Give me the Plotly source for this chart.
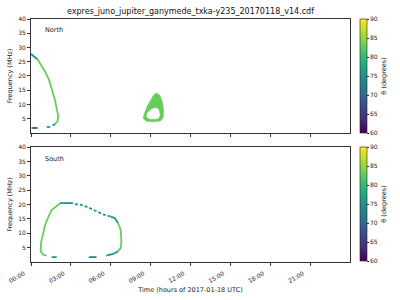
import pandas as pd
import plotly.graph_objects as go
from plotly.colors import sample_colorscale

# ---------------- data (hours of day, frequency MHz, theta degrees) ----------------
title_text = "expres_juno_jupiter_ganymede_txka-y235_20170118_v14.cdf"
y_ticks = [5, 10, 15, 20, 25, 30, 35, 40]
x_tick_hours = [0, 3, 6, 9, 12, 15, 18, 21]
cbar_ticks = [60, 65, 70, 75, 80, 85, 90]

# North hemisphere segments: (hours, freqs, theta, dashed)
n_arc_top_h = [0.0, 0.3, 0.5]
n_arc_top_f = [27.7, 26.6, 25.8]
n_arc_h = [0.5, 0.68, 1.05, 1.35, 1.6, 1.8, 1.95, 2.05, 2.0, 1.8]
n_arc_f = [25.8, 24.5, 21.6, 18.7, 15.2, 11.7, 8.2, 5.8, 4.1, 3.1]
n_tail_h = [1.8, 1.62]
n_tail_f = [3.1, 2.6]
n_dash_h = [1.18, 1.45]
n_dash_f = [2.1, 2.1]
n_blue_h = [0.05, 0.5]
n_blue_f = [1.75, 1.75]
n_loop_out_h = [9.43, 9.7, 9.88, 9.98, 9.95, 9.75, 9.2, 8.7, 8.45, 8.5, 8.75, 9.05, 9.25, 9.43]
n_loop_out_f = [14.0, 13.2, 11.0, 8.0, 5.5, 4.2, 3.9, 4.0, 5.0, 6.5, 9.5, 12.0, 13.5, 14.0]
n_loop_in_h = [9.4, 9.6, 9.68, 9.6, 9.3, 8.9, 8.7, 8.8, 9.1, 9.4]
n_loop_in_f = [8.8, 8.2, 6.5, 5.2, 4.9, 5.0, 5.8, 7.2, 8.4, 8.8]

# South hemisphere segments
s_left_h = [2.18, 2.05, 1.55, 1.3, 1.1, 0.92, 0.75, 0.73, 0.92, 1.18]
s_left_f = [20.5, 19.9, 18.1, 15.8, 13.5, 10.1, 6.6, 3.7, 2.5, 2.2]
s_dash1_h = [1.55, 1.93]
s_dash1_f = [1.7, 1.7]
s_top_h = [2.18, 3.17]
s_top_f = [20.5, 20.5]
s_slope_h = [3.3, 3.7, 4.2, 4.8, 5.42, 6.0]
s_slope_f = [20.1, 20.0, 19.2, 18.0, 16.6, 15.8]
s_rtop_h = [6.0, 6.3, 6.55]
s_rtop_f = [15.8, 15.3, 13.5]
s_right_h = [6.55, 6.75, 6.8, 6.75, 6.55]
s_right_f = [13.5, 11.2, 7.1, 4.9, 3.7]
s_rbot_h = [6.55, 6.17, 5.67]
s_rbot_f = [3.7, 2.8, 2.2]
s_dash2_h = [4.35, 4.93]
s_dash2_f = [1.7, 1.7]

theta_teal = 76
theta_green = 83
theta_blue = 70
theta_dark = 74

north_segments = [
    (n_arc_top_h, n_arc_top_f, theta_teal, "solid"),
    (n_arc_h, n_arc_f, theta_green, "solid"),
    (n_tail_h, n_tail_f, theta_teal, "solid"),
    (n_dash_h, n_dash_f, theta_teal, "solid"),
    (n_blue_h, n_blue_f, theta_blue, "solid"),
]
south_segments = [
    (s_left_h, s_left_f, theta_green, "solid"),
    (s_dash1_h, s_dash1_f, theta_teal, "solid"),
    (s_top_h, s_top_f, theta_teal, "solid"),
    (s_slope_h, s_slope_f, theta_teal, "3px,2px"),
    (s_rtop_h, s_rtop_f, theta_teal, "solid"),
    (s_right_h, s_right_f, theta_green, "solid"),
    (s_rbot_h, s_rbot_f, theta_teal, "solid"),
    (s_dash2_h, s_dash2_f, theta_dark, "solid"),
]

# ---------------- figure ----------------
day = pd.Timestamp("2017-01-18")


def to_t(hours):
    return [day + pd.Timedelta(hours=h) for h in hours]


def col(theta):
    return sample_colorscale("Viridis", [(theta - 60) / 30])[0]


fig = go.Figure()
FONT = "DejaVu Sans"

for segs, xa, ya in [(north_segments, "x", "y"), (south_segments, "x2", "y2")]:
    for h, f, th, dash in segs:
        fig.add_trace(go.Scatter(x=to_t(h), y=f, mode="lines", xaxis=xa, yaxis=ya,
                                 line=dict(color=col(th), width=1.8, dash=dash),
                                 showlegend=False, hoverinfo="skip"))

# North loop (filled ring)
fig.add_trace(go.Scatter(x=to_t(n_loop_out_h), y=n_loop_out_f, mode="lines", fill="toself",
                         fillcolor=col(theta_green), line=dict(color=col(theta_green), width=0.5),
                         xaxis="x", yaxis="y", showlegend=False, hoverinfo="skip"))
fig.add_trace(go.Scatter(x=to_t(n_loop_in_h), y=n_loop_in_f, mode="lines", fill="toself",
                         fillcolor="white", line=dict(color="white", width=0.5),
                         xaxis="x", yaxis="y", showlegend=False, hoverinfo="skip"))

# colorbars
cb_common = dict(thickness=7, lenmode="pixels", len=114, x=(360 - 31) / 319, xanchor="left",
                 xpad=0, ypad=0,
                 tickvals=cbar_ticks, ticks="outside", ticklen=2, tickwidth=0.6, tickcolor="#222",
                 tickfont=dict(size=6, family=FONT, color="#222"),
                 outlinecolor="#222", outlinewidth=0.6,
                 title=dict(text="θ (degrees)", side="right", font=dict(size=6.5, family=FONT, color="#222")))
for ya, yc in [("y", 1.0), ("y2", 0.473)]:
    fig.add_trace(go.Scatter(x=[None], y=[None], mode="markers", xaxis="x" if ya == "y" else "x2", yaxis=ya,
                             marker=dict(color=[60], cmin=60, cmax=90, colorscale="Viridis", showscale=True,
                                         colorbar=dict(cb_common, y=yc, yanchor="top")),
                             showlegend=False, hoverinfo="skip"))

xr = [day, day + pd.Timedelta(hours=24)]
tickvals = to_t(x_tick_hours)
axis_common = dict(showgrid=False, zeroline=False, showline=True, linecolor="#333", linewidth=0.8,
                   mirror=True, ticks="outside", ticklen=3, tickwidth=0.6, tickcolor="#333",
                   automargin=False,
                   tickfont=dict(size=6, family=FONT, color="#222"))

fig.update_layout(
    width=400, height=300, plot_bgcolor="white", paper_bgcolor="white",
    margin=dict(l=31, r=50, t=19, b=38, autoexpand=False),
    title=dict(text=title_text, x=190.5 / 400, xanchor="center", y=1 - 11 / 300, yanchor="middle",
               font=dict(size=8, family=FONT, color="#111")),
    xaxis=dict(axis_common, range=xr, tickvals=tickvals, showticklabels=False, anchor="y"),
    yaxis=dict(axis_common, range=[0, 40], tickvals=y_ticks, domain=[0.531, 1.0], anchor="x",
               title=dict(text="Frequency (MHz)", font=dict(size=6.5, family=FONT, color="#222"), standoff=4)),
    xaxis2=dict(axis_common, range=xr, tickvals=tickvals, tickformat="%H:%M", tickangle=-30, anchor="y2",
                ticklabelshift=-7, ticklabelstandoff=2,
                title=dict(text="Time (hours of 2017-01-18 UTC)", font=dict(size=6.5, family=FONT, color="#222"),
                           standoff=4)),
    yaxis2=dict(axis_common, range=[0, 40], tickvals=y_ticks, domain=[0.0, 0.473], anchor="x2",
                title=dict(text="Frequency (MHz)", font=dict(size=6.5, family=FONT, color="#222"), standoff=4)),
    annotations=[
        dict(text="North", xref="x domain", yref="y domain", x=0.038, y=0.9, xanchor="left", yanchor="middle",
             showarrow=False, font=dict(size=6.5, family=FONT, color="#222")),
        dict(text="South", xref="x2 domain", yref="y2 domain", x=0.038, y=0.9, xanchor="left", yanchor="middle",
             showarrow=False, font=dict(size=6.5, family=FONT, color="#222")),
    ],
)

fig.write_html("out.html")
